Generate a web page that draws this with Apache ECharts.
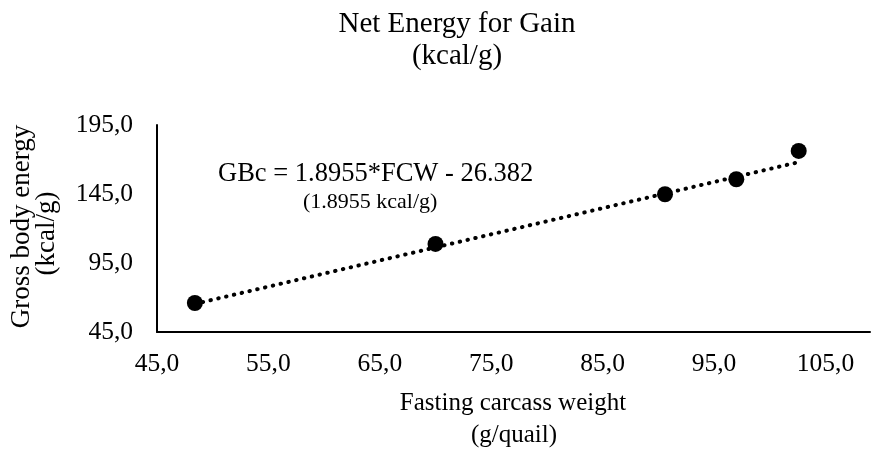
<!DOCTYPE html>
<html>
<head>
<meta charset="utf-8">
<script src="https://cdn.jsdelivr.net/npm/echarts@6/dist/echarts.min.js"></script>
<style>
html,body{margin:0;padding:0;background:#fff;}
#chart{width:872px;height:451px;}
</style>
</head>
<body>
<div id="chart"></div>
<script>
// Data
const fastingCarcassWeight = [48.4, 70.0, 90.6, 97.0, 102.6];   // g/quail
const grossBodyEnergy      = [66.0, 108.8, 144.8, 155.7, 176.2]; // kcal/g
// Trend line equation as printed on the chart
const trendSlope = 1.8955;
const trendIntercept = -26.382;
const equationText = 'GBc = 1.8955*FCW - 26.382';
const equationNote = '(1.8955 kcal/g)';
const titleLines = ['Net Energy for Gain', '(kcal/g)'];
const xNameLines = ['Fasting carcass weight', '(g/quail)'];
const yNameLines = ['Gross body energy', '(kcal/g)'];

const FONT = '"Liberation Serif", "Times New Roman", serif';
const points = fastingCarcassWeight.map((x, i) => [x, grossBodyEnergy[i]]);
const xMinData = Math.min(...fastingCarcassWeight);
const xMaxData = Math.max(...fastingCarcassWeight);
const trend = [xMinData, xMaxData].map(x => [x, trendSlope * x + trendIntercept]);
const fmt = v => v.toFixed(1).replace('.', ',');

function txt(text, x, y, size, opts) {
  return Object.assign({
    type: 'text', x: x, y: y, silent: true,
    style: {text: text, font: size + 'px ' + FONT, fill: '#000', align: 'center', verticalAlign: 'middle'}
  }, opts || {});
}

const chart = echarts.init(document.getElementById('chart'), null, {renderer: 'canvas'});
chart.setOption({
  backgroundColor: '#fff',
  animation: false,
  grid: {left: 157, right: 2, top: 125, bottom: 119, containLabel: false},
  xAxis: {
    type: 'value', min: 45, max: 109, interval: 10,
    axisLine: {show: true, lineStyle: {color: '#000', width: 2}},
    axisTick: {show: false}, splitLine: {show: false},
    axisLabel: {fontFamily: FONT, fontSize: 25.5, color: '#000', margin: 19, showMaxLabel: false, formatter: fmt}
  },
  yAxis: {
    type: 'value', min: 45, max: 195, interval: 50,
    axisLine: {show: true, lineStyle: {color: '#000', width: 2}},
    axisTick: {show: false}, splitLine: {show: false},
    axisLabel: {fontFamily: FONT, fontSize: 25.5, color: '#000', margin: 24, formatter: fmt}
  },
  series: [
    {
      type: 'line', data: trend, showSymbol: false, silent: true, z: 1,
      lineStyle: {color: '#000', width: 4, type: [0.5, 7.5], cap: 'round'}
    },
    {
      type: 'scatter', data: points, symbol: 'circle', symbolSize: 16, z: 2,
      itemStyle: {color: '#000', opacity: 1}
    }
  ],
  graphic: [
    txt(titleLines[0], 457, 24.5, 29),
    txt(titleLines[1], 457, 56, 29),
    txt(xNameLines[0], 513, 403, 25),
    txt(xNameLines[1], 514, 435, 25),
    txt(yNameLines[0], 22, 226.5, 27, {rotation: Math.PI / 2}),
    txt(yNameLines[1], 47, 233.5, 27, {rotation: Math.PI / 2}),
    {type: 'text', x: 218, y: 174, silent: true,
     style: {text: equationText, font: '26.5px ' + FONT, fill: '#000', align: 'left', verticalAlign: 'middle'}},
    {type: 'text', x: 303, y: 202, silent: true,
     style: {text: equationNote, font: '22px ' + FONT, fill: '#000', align: 'left', verticalAlign: 'middle'}}
  ]
});
</script>
</body>
</html>
